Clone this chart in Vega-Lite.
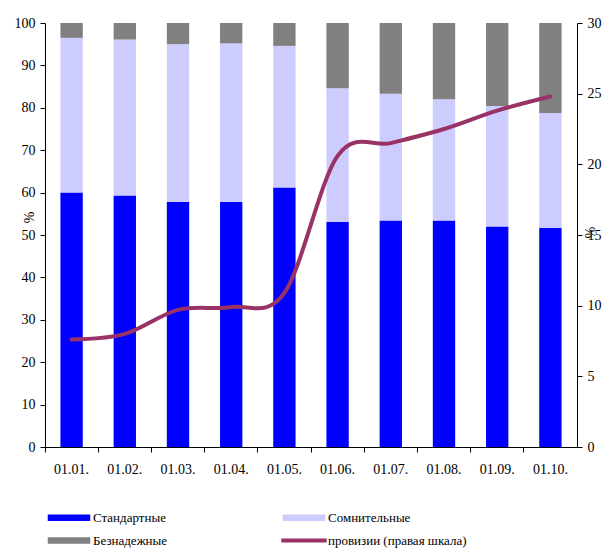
{
  "$schema": "https://vega.github.io/schema/vega-lite/v6.json",
  "width": 532,
  "height": 424,
  "autosize": "none",
  "padding": {"left": 45, "top": 23, "right": 25, "bottom": 101},
  "background": "white",
  "config": {
    "view": {"stroke": null},
    "font": "Liberation Serif",
    "axis": {
      "domainColor": "#000000",
      "tickColor": "#000000",
      "labelColor": "#000000",
      "titleColor": "#000000",
      "labelFont": "Liberation Serif",
      "titleFont": "Liberation Serif",
      "labelFontSize": 14,
      "titleFontSize": 14,
      "titleFontWeight": "normal",
      "grid": false,
      "tickSize": 5
    },
    "legend": {"labelFont": "Liberation Serif"}
  },
  "datasets": {
    "bars": [
      {"date": "01.01.", "cat": "Стандартные", "ord": 1, "v": 60.0},
      {"date": "01.02.", "cat": "Стандартные", "ord": 1, "v": 59.3},
      {"date": "01.03.", "cat": "Стандартные", "ord": 1, "v": 57.8},
      {"date": "01.04.", "cat": "Стандартные", "ord": 1, "v": 57.8},
      {"date": "01.05.", "cat": "Стандартные", "ord": 1, "v": 61.2},
      {"date": "01.06.", "cat": "Стандартные", "ord": 1, "v": 53.1},
      {"date": "01.07.", "cat": "Стандартные", "ord": 1, "v": 53.4},
      {"date": "01.08.", "cat": "Стандартные", "ord": 1, "v": 53.4},
      {"date": "01.09.", "cat": "Стандартные", "ord": 1, "v": 52.0},
      {"date": "01.10.", "cat": "Стандартные", "ord": 1, "v": 51.7},
      {"date": "01.01.", "cat": "Сомнительные", "ord": 2, "v": 36.5},
      {"date": "01.02.", "cat": "Сомнительные", "ord": 2, "v": 36.8},
      {"date": "01.03.", "cat": "Сомнительные", "ord": 2, "v": 37.2},
      {"date": "01.04.", "cat": "Сомнительные", "ord": 2, "v": 37.4},
      {"date": "01.05.", "cat": "Сомнительные", "ord": 2, "v": 33.4},
      {"date": "01.06.", "cat": "Сомнительные", "ord": 2, "v": 31.5},
      {"date": "01.07.", "cat": "Сомнительные", "ord": 2, "v": 29.9},
      {"date": "01.08.", "cat": "Сомнительные", "ord": 2, "v": 28.6},
      {"date": "01.09.", "cat": "Сомнительные", "ord": 2, "v": 28.4},
      {"date": "01.10.", "cat": "Сомнительные", "ord": 2, "v": 27.1},
      {"date": "01.01.", "cat": "Безнадежные", "ord": 3, "v": 3.5},
      {"date": "01.02.", "cat": "Безнадежные", "ord": 3, "v": 3.9},
      {"date": "01.03.", "cat": "Безнадежные", "ord": 3, "v": 5.0},
      {"date": "01.04.", "cat": "Безнадежные", "ord": 3, "v": 4.8},
      {"date": "01.05.", "cat": "Безнадежные", "ord": 3, "v": 5.4},
      {"date": "01.06.", "cat": "Безнадежные", "ord": 3, "v": 15.4},
      {"date": "01.07.", "cat": "Безнадежные", "ord": 3, "v": 16.7},
      {"date": "01.08.", "cat": "Безнадежные", "ord": 3, "v": 18.0},
      {"date": "01.09.", "cat": "Безнадежные", "ord": 3, "v": 19.6},
      {"date": "01.10.", "cat": "Безнадежные", "ord": 3, "v": 21.2}
    ],
    "line": [
      {"date": "01.01.", "series": "провизии (правая шкала)", "p": 7.6},
      {"date": "01.02.", "series": "провизии (правая шкала)", "p": 8.0},
      {"date": "01.03.", "series": "провизии (правая шкала)", "p": 9.7},
      {"date": "01.04.", "series": "провизии (правая шкала)", "p": 9.9},
      {"date": "01.05.", "series": "провизии (правая шкала)", "p": 10.9},
      {"date": "01.06.", "series": "провизии (правая шкала)", "p": 20.6},
      {"date": "01.07.", "series": "провизии (правая шкала)", "p": 21.5},
      {"date": "01.08.", "series": "провизии (правая шкала)", "p": 22.5},
      {"date": "01.09.", "series": "провизии (правая шкала)", "p": 23.8},
      {"date": "01.10.", "series": "провизии (правая шкала)", "p": 24.8}
    ]
  },
  "layer": [
    {
      "data": {"name": "bars"},
      "mark": {"type": "bar"},
      "encoding": {
        "x": {
          "field": "date",
          "type": "nominal",
          "scale": {"paddingInner": 0.58, "paddingOuter": 0.29},
          "axis": {
            "title": null,
            "labelAngle": 0,
            "bandPosition": -0.69,
            "labelPadding": 10
          }
        },
        "y": {
          "field": "v",
          "type": "quantitative",
          "stack": "zero",
          "scale": {"domain": [0, 100], "nice": false},
          "axis": {
            "title": "%",
            "values": [0, 10, 20, 30, 40, 50, 60, 70, 80, 90, 100],
            "labelPadding": 5,
            "titleX": -9,
            "titleY": 194
          }
        },
        "color": {
          "field": "cat",
          "type": "nominal",
          "scale": {
            "domain": ["Стандартные", "Безнадежные", "Сомнительные", "провизии (правая шкала)"],
            "range": ["#0000ff", "#808080", "#ccccff", "#993366"]
          },
          "legend": {
            "title": null,
            "orient": "none",
            "legendX": 17.5,
            "legendY": 488,
            "columns": 2,
            "columnPadding": 111,
            "rowPadding": 9,
            "labelFontSize": 13,
            "labelFont": "Liberation Serif",
            "labelColor": "#000000",
            "labelOffset": 17.5,
            "symbolSize": 100,
            "symbolType": "M-4.1,-0.5H4.1V0.5H-4.1Z",
            "encode": {
              "symbols": {
                "update": {
                  "fill": {"scale": "color", "field": "value"},
                  "stroke": {"value": "transparent"},
                  "shape": {"signal": "datum.value === 'провизии (правая шкала)' ? 'M-4.4,-0.25H4.4V0.25H-4.4Z' : 'M-4.1,-0.5H4.1V0.5H-4.1Z'"}
                }
              }
            }
          }
        },
        "order": {"field": "ord", "type": "quantitative"}
      }
    },
    {
      "data": {"name": "line"},
      "mark": {"type": "line", "interpolate": "cardinal", "strokeWidth": 4, "strokeCap": "round"},
      "encoding": {
        "x": {"field": "date", "type": "nominal"},
        "y": {
          "field": "p",
          "type": "quantitative",
          "scale": {"domain": [0, 30], "nice": false},
          "axis": {
            "orient": "right",
            "title": "%",
            "values": [0, 5, 10, 15, 20, 25, 30],
            "labelPadding": 5,
            "titleX": 4,
            "titleY": 209
          }
        },
        "color": {"field": "series", "type": "nominal"}
      }
    }
  ],
  "resolve": {"scale": {"y": "independent"}}
}
